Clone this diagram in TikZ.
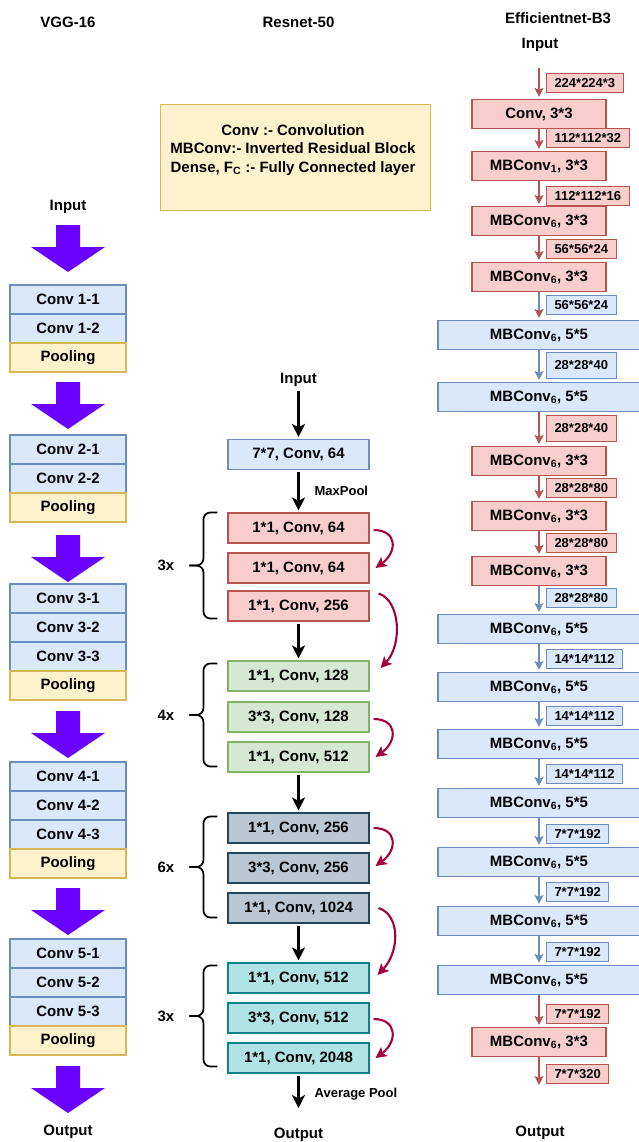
\documentclass[tikz,border=0pt]{standalone}
\usepackage{fontspec}
\setmainfont{Liberation Sans}
\usetikzlibrary{arrows.meta,calc,positioning}
\definecolor{bluefill}{HTML}{DAE8FC}
\definecolor{blueline}{HTML}{6C8EBF}
\definecolor{yellowfill}{HTML}{FFF2CC}
\definecolor{yellowline}{HTML}{D6B656}
\definecolor{redfill}{HTML}{F8CECC}
\definecolor{redline}{HTML}{B85450}
\definecolor{greenfill}{HTML}{D5E8D4}
\definecolor{greenline}{HTML}{82B366}
\definecolor{grayfill}{HTML}{BAC8D3}
\definecolor{grayline}{HTML}{23445D}
\definecolor{cyanfill}{HTML}{B0E3E6}
\definecolor{cyanline}{HTML}{0E8088}
\definecolor{vggpurple}{HTML}{6A00FF}
\definecolor{skipred}{HTML}{A50040}

% fat VGG arrow ending #2 above point #1
\newcommand{\vggarrow}[2]{%
  \fill[fatarrow] ($(#1)+(-12,-#2-47)$) -- ($(#1)+(12,-#2-47)$) -- ($(#1)+(12,-#2-25)$)
    -- ($(#1)+(37,-#2-25)$) -- ($(#1)+(0,-#2)$) -- ($(#1)+(-37,-#2-25)$)
    -- ($(#1)+(-12,-#2-25)$) -- cycle;}
% curly bracket from #1 (top) to #2 (bottom), label #4 named #3
\newcommand{\grpbrace}[4]{%
  \coordinate (bt) at #1; \coordinate (bb) at #2;
  \draw[grp] (bt) -- ++(-14,0) |- ($(bt)!.5!(bb)+(-28,0)$);
  \draw[grp] (bb) -- ++(-14,0) |- ($(bt)!.5!(bb)+(-28,0)$);
  \node[title, left=13pt] (#3) at ($(bt)!.5!(bb)+(-28,0)$) {#4};}

\begin{document}
\begin{tikzpicture}[x=1pt, y=-1pt,
  font=\bfseries\fontsize{15}{18}\selectfont,
  title/.style={inner sep=2pt},
  fatarrow/.style={fill=vggpurple},
  vggconv/.style={draw=blueline, fill=bluefill, line width=1.3pt, minimum width=116pt,
    minimum height=29pt, inner sep=0pt, outer sep=0pt},
  vggpool/.style={vggconv, draw=yellowline, fill=yellowfill},
  resbox/.style={line width=1.1pt, minimum width=141pt, minimum height=30pt, inner sep=0pt},
  bluebox/.style={resbox, draw=blueline, fill=bluefill},
  redbox/.style={resbox, draw=redline, fill=redfill},
  greenbox/.style={resbox, draw=greenline, fill=greenfill},
  graybox/.style={resbox, draw=grayline, fill=grayfill},
  cyanbox/.style={resbox, draw=cyanline, fill=cyanfill},
  effred/.style={redbox, minimum width=134pt, minimum height=29pt},
  effblue/.style={bluebox, minimum width=202pt, minimum height=29pt},
  sizered/.style={draw=redline, fill=redfill, line width=1pt, anchor=west,
    font=\bfseries\fontsize{13}{15}\selectfont, inner xsep=8pt, inner ysep=0pt, minimum height=19pt},
  sizeblue/.style={sizered, draw=blueline, fill=bluefill},
  sizeredtall/.style={sizered, minimum height=26pt},
  sizebluetall/.style={sizeblue, minimum height=26pt},
  flow/.style={-{Stealth[length=13pt,width=13pt,inset=3.5pt]}, line width=2.3pt,
    shorten <=2pt, shorten >=2pt},
  effflow/.style={-{Stealth[length=9pt,width=9pt,inset=2pt]}, line width=1.6pt, shorten >=2pt},
  skiparrow/.style={-{Stealth[length=11pt,width=11pt,inset=2.5pt]}, line width=2.1pt, skipred},
  grp/.style={line width=1.7pt, rounded corners=7pt},
  note/.style={font=\bfseries\fontsize{13}{15}\selectfont, inner sep=1pt}
]
  \path[use as bounding box, fill=white] (0,0) rectangle (638,1142);

  % VGG-16
  \node[title] (vggtitle) at (68,22) {VGG-16};
  \node[title] (vggin) at (68,207) {Input};
  \node[vggconv] (c11) at (68,299.5) {Conv 1-1};
  \node[vggconv, below=0pt of c11] (c12) {Conv 1-2};
  \node[vggpool, below=0pt of c12] (p1) {Pooling};
  \node[vggconv] (c21) at (68,449.5) {Conv 2-1};
  \node[vggconv, below=0pt of c21] (c22) {Conv 2-2};
  \node[vggpool, below=0pt of c22] (p2) {Pooling};
  \node[vggconv] (c31) at (68,598.5) {Conv 3-1};
  \node[vggconv, below=0pt of c31] (c32) {Conv 3-2};
  \node[vggconv, below=0pt of c32] (c33) {Conv 3-3};
  \node[vggpool, below=0pt of c33] (p3) {Pooling};
  \node[vggconv] (c41) at (68,776.5) {Conv 4-1};
  \node[vggconv, below=0pt of c41] (c42) {Conv 4-2};
  \node[vggconv, below=0pt of c42] (c43) {Conv 4-3};
  \node[vggpool, below=0pt of c43] (p4) {Pooling};
  \node[vggconv] (c51) at (68,953.5) {Conv 5-1};
  \node[vggconv, below=0pt of c51] (c52) {Conv 5-2};
  \node[vggconv, below=0pt of c52] (c53) {Conv 5-3};
  \node[vggpool, below=0pt of c53] (p5) {Pooling};
  \coordinate (vggend) at (68,1113);
  \node[title] (vggout) at (68,1132) {Output};
  \vggarrow{c11.north}{13}
  \vggarrow{c21.north}{6}
  \vggarrow{c31.north}{2}
  \vggarrow{c41.north}{4}
  \vggarrow{c51.north}{4}
  \vggarrow{vggend}{0}

  % legend
  \node[draw=yellowline, fill=yellowfill, line width=1pt, minimum width=270pt,
    minimum height=105pt] (legend) at (295,157.5) {};
  \node[align=center, font=\bfseries\fontsize{15}{18.5}\selectfont] (legendtext)
    at ($(legend.center)+(-2,-7.5)$)
    {Conv :- Convolution\\MBConv:- Inverted Residual Block\\Dense, F\textsubscript{C} :- Fully Connected layer};

  % Resnet-50
  \node[title] (restitle) at (298.5,22) {Resnet-50};
  \node[title] (resin) at (298.5,380) {Input};
  \node[bluebox] (b0) at (298.5,454.5) {7*7, Conv, 64};
  \node[redbox] (r1) at (298.5,528) {1*1, Conv, 64};
  \node[redbox] (r2) at (298.5,568) {1*1, Conv, 64};
  \node[redbox] (r3) at (298.5,606) {1*1, Conv, 256};
  \node[greenbox] (g1) at (298.5,676) {1*1, Conv, 128};
  \node[greenbox] (g2) at (298.5,717) {3*3, Conv, 128};
  \node[greenbox] (g3) at (298.5,757) {1*1, Conv, 512};
  \node[graybox] (k1) at (298.5,828) {1*1, Conv, 256};
  \node[graybox] (k2) at (298.5,868) {3*3, Conv, 256};
  \node[graybox] (k3) at (298.5,908) {1*1, Conv, 1024};
  \node[cyanbox] (q1) at (298.5,978) {1*1, Conv, 512};
  \node[cyanbox] (q2) at (298.5,1018) {3*3, Conv, 512};
  \node[cyanbox] (q3) at (298.5,1058) {1*1, Conv, 2048};
  \node[title] (resout) at (298.5,1135) {Output};

  \draw[flow] (resin) -- (b0);
  \draw[flow] (b0) -- node[note, right=14pt]{MaxPool} (r1);
  \draw[flow] (r3) -- (g1);
  \draw[flow] (g3) -- (k1);
  \draw[flow] (k3) -- (q1);
  \draw[flow, shorten >=18pt] (q3) -- node[note, right=14pt, pos=.4]{Average Pool} (resout);

  \grpbrace{($(r1.north west)+(-10,0)$)}{($(r3.south west)+(-10,-3)$)}{rep1}{3x}
  \grpbrace{($(g1.north west)+(-10,3)$)}{($(g3.south west)+(-10,-6)$)}{rep2}{4x}
  \grpbrace{($(k1.north west)+(-10,4)$)}{($(k3.south west)+(-10,-6)$)}{rep3}{6x}
  \grpbrace{($(q1.north west)+(-10,3)$)}{($(q3.south west)+(-10,-7)$)}{rep4}{3x}

  % identity shortcuts
  \draw[skiparrow] ($(r1.east)+(4,2)$) .. controls +(24,0) and +(22,-16) .. ($(r2.east)+(6,0)$);
  \draw[skiparrow] ($(r3.north east)+(9,3)$) .. controls +(22,7) and +(22,-23) .. ($(g1.east)+(11,-8)$);
  \draw[skiparrow] ($(g2.east)+(4,2)$) .. controls +(24,0) and +(22,-16) .. ($(g3.east)+(6,0)$);
  \draw[skiparrow] ($(k1.east)+(4,0)$) .. controls +(24,0) and +(22,-16) .. ($(k2.east)+(6,-2)$);
  \draw[skiparrow] ($(k3.east)+(9,0)$) .. controls +(22,7) and +(22,-23) .. ($(q1.east)+(8,-3)$);
  \draw[skiparrow] ($(q2.east)+(4,1)$) .. controls +(24,0) and +(22,-16) .. ($(q3.east)+(6,0)$);

  % Efficientnet-B3
  \node[title] (efftitle) at (558,18) {Efficientnet-B3};
  \node[title] (effin) at (540,45) {Input};
  \coordinate (est) at (539,68);
  \coordinate (eend) at (539,1085);
  \node[title] (effout) at (540,1133) {Output};
  \foreach \n/\y/\s/\t in {
      1/114/effred/{Conv, 3*3},
      2/166/effred/{MBConv\textsubscript{1}, 3*3},
      3/221/effred/{MBConv\textsubscript{6}, 3*3},
      4/277/effred/{MBConv\textsubscript{6}, 3*3},
      5/335/effblue/{MBConv\textsubscript{6}, 5*5},
      6/397/effblue/{MBConv\textsubscript{6}, 5*5},
      7/461/effred/{MBConv\textsubscript{6}, 3*3},
      8/516/effred/{MBConv\textsubscript{6}, 3*3},
      9/571/effred/{MBConv\textsubscript{6}, 3*3},
      10/629/effblue/{MBConv\textsubscript{6}, 5*5},
      11/687/effblue/{MBConv\textsubscript{6}, 5*5},
      12/744/effblue/{MBConv\textsubscript{6}, 5*5},
      13/803/effblue/{MBConv\textsubscript{6}, 5*5},
      14/862/effblue/{MBConv\textsubscript{6}, 5*5},
      15/921/effblue/{MBConv\textsubscript{6}, 5*5},
      16/980/effblue/{MBConv\textsubscript{6}, 5*5},
      17/1042/effred/{MBConv\textsubscript{6}, 3*3}}
    \node[\s] (e\n) at (539,\y) {\t};

  \foreach \a/\b/\c in {est/e1/redline, e1/e2/redline, e2/e3/redline, e3/e4/redline,
      e5/e6/blueline, e6/e7/redline, e7/e8/redline, e8/e9/redline, e9/e10/blueline,
      e10/e11/blueline, e11/e12/blueline, e12/e13/blueline, e13/e14/blueline,
      e14/e15/blueline, e15/e16/blueline, e16/e17/redline}
    \draw[effflow, \c] (\a) -- (\b);
  \draw[effflow, blueline, -{Stealth[length=9pt,width=9pt,inset=2pt,color=redline]}] (e4) -- (e5);
  \draw[effflow, redline, shorten >=0pt] (e17) -- (eend);

  \foreach \n/\y/\s/\t in {
      0/83/sizered/224*224*3, 1/138/sizered/112*112*32, 2/196/sizered/112*112*16,
      3/249/sizered/56*56*24, 4/305/sizeblue/56*56*24, 5/365/sizebluetall/28*28*40,
      6/428/sizeredtall/28*28*40, 7/488/sizered/28*28*80, 8/543/sizered/28*28*80,
      9/598/sizeblue/28*28*80, 10/659/sizeblue/14*14*112, 11/716/sizeblue/14*14*112,
      12/774/sizeblue/14*14*112, 13/834/sizeblue/7*7*192, 14/892/sizeblue/7*7*192,
      15/952/sizeblue/7*7*192, 16/1014/sizered/7*7*192, 17/1074/sizered/7*7*320}
    \node[\s] (l\n) at (546,\y) {\t};
\end{tikzpicture}
\end{document}
